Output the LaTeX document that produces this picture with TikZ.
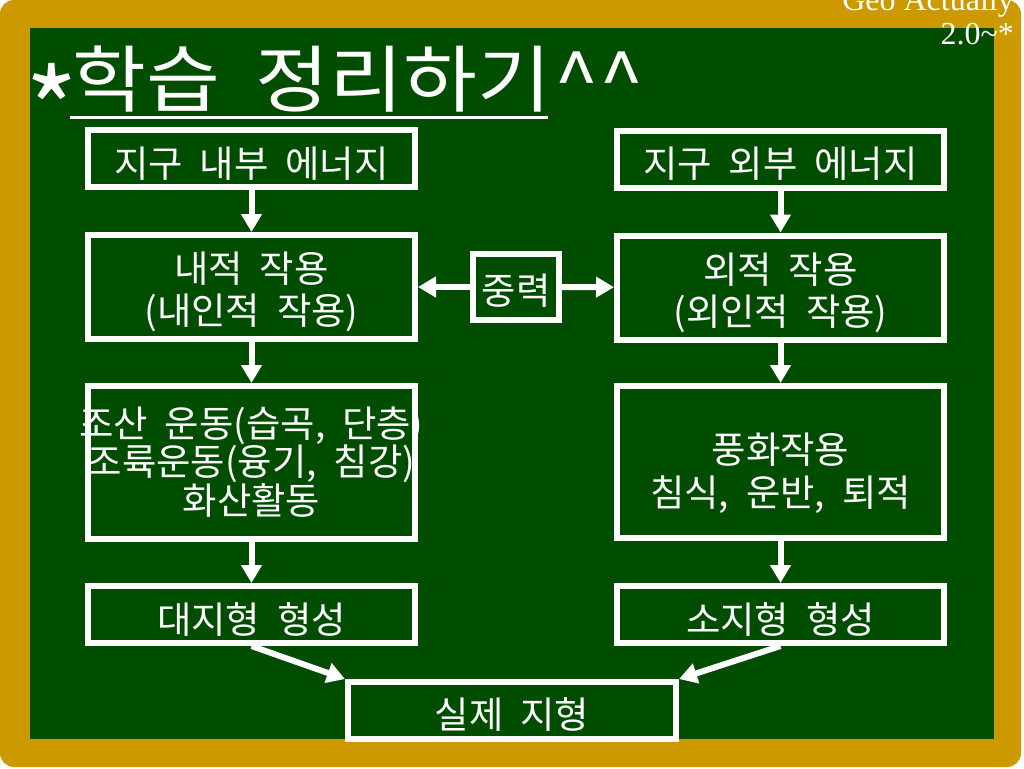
\documentclass[tikz,border=0pt]{standalone}
\usepackage{fontspec}
\newfontfamily\kr{Noto Sans CJK KR}[FakeStretch=1.01, WordSpace=2.0]
\newfontfamily\krtitle{Noto Sans CJK KR}[FakeStretch=1.1, WordSpace=2.0]
\newfontfamily\geoserif{Liberation Serif}
\usetikzlibrary{arrows.meta}
\definecolor{board}{RGB}{0,77,0}
\definecolor{framegold}{RGB}{204,153,0}
\begin{document}
\begin{tikzpicture}[x=1pt,y=-1pt,
  box/.style={draw=white, line width=6pt, minimum width=327pt, inner sep=0pt},
  txt/.style={inner sep=0pt, text=white, align=center},
  btxt/.style={txt, font=\kr\fontsize{37}{42}\selectfont},
  arr/.style={draw=white, line width=6pt, -{Triangle[length=18pt,width=20pt]}}]
\useasboundingbox (0,0) rectangle (1024,768);
\fill[white] (0,0) rectangle (1024,768);
\fill[framegold, rounded corners=14pt] (0,0) rectangle (1021,767);
\fill[board] (30,28) rectangle (994,739);
% title
\node[txt, anchor=base west, font=\krtitle\fontsize{73}{73}\selectfont] (title) at (72,106) {학습 정리하기};
\node[txt, anchor=base west, font=\krtitle\fontsize{73}{73}\selectfont] (carets) at ([xshift=3pt]title.base east) {\textasciicircum\textasciicircum};
\node[txt, anchor=north, font=\kr\fontsize{112}{112}\selectfont] (star) at (52,63) {*};
\draw[white, line width=3pt] (70,117) -- (548,117);
\node[txt, anchor=south east, align=right, font=\geoserif\fontsize{32}{34}\selectfont] (geo) at (1014,45) {Geo Actually\\2.0\textasciitilde*};
% boxes
\node[box, minimum height=57pt] (L1) at (251.5,158.5) {};
\node[btxt] (L1t) at ([yshift=-5pt]L1.center) {지구 내부 에너지};
\node[box, minimum height=57pt] (R1) at (780.5,159) {};
\node[btxt] (R1t) at ([yshift=-5pt]R1.center) {지구 외부 에너지};
\node[box, minimum height=104pt] (L2) at (251.5,287) {};
\node[btxt] (L2t) at ([yshift=-5pt]L2.center) {내적 작용\\(내인적 작용)};
\node[box, minimum height=104pt] (R2) at (780.5,287.5) {};
\node[btxt] (R2t) at ([yshift=-5pt]R2.center) {외적 작용\\(외인적 작용)};
\node[box, minimum width=86pt, minimum height=66pt] (G) at (516,287) {};
\node[btxt] (Gt) at ([yshift=-4pt]G.center) {중력};
\node[box, minimum height=153pt] (L3) at (251.5,462.5) {};
\node[txt, font=\kr\fontsize{37}{38}\selectfont] (L3t) at (251.5,462) {조산 운동(습곡, 단층)\\조륙운동(융기, 침강)\\화산활동};
\node[box, minimum height=152pt] (R3) at (780.5,462) {};
\node[txt, font=\kr\fontsize{37}{43}\selectfont] (R3t) at (780.5,473) {풍화작용\\침식, 운반, 퇴적};
\node[box, minimum height=57pt] (L4) at (251.5,614.5) {};
\node[btxt] (L4t) at ([yshift=-5pt]L4.center) {대지형 형성};
\node[box, minimum height=57pt] (R4) at (780.5,614.5) {};
\node[btxt] (R4t) at ([yshift=-5pt]R4.center) {소지형 형성};
\node[box, minimum width=328pt, minimum height=57pt] (B) at (512,710.5) {};
\node[btxt] (Bt) at ([yshift=-4pt]B.center) {실제 지형};
% arrows
\draw[arr] (L1) -- (L2);
\draw[arr] (R1) -- (R2);
\draw[arr] (L2) -- (L3);
\draw[arr] (R2) -- (R3);
\draw[arr] (L3) -- (L4);
\draw[arr] (R3) -- (R4);
\draw[arr] (G) -- (L2);
\draw[arr] (G) -- (R2);
\draw[arr] (L4.south) -- (B.north west);
\draw[arr] (R4.south) -- (B.north east);
\end{tikzpicture}
\end{document}
